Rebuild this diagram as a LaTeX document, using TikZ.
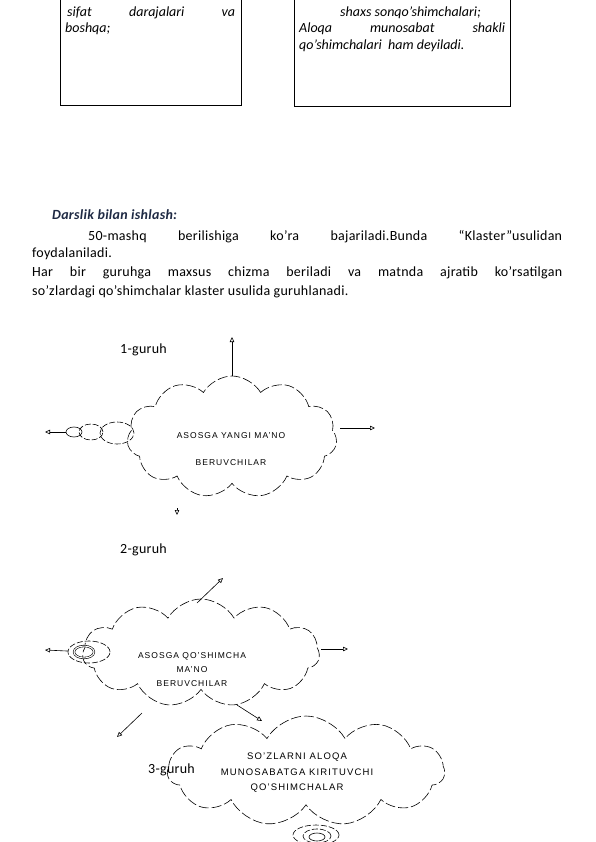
\documentclass[tikz,border=0pt]{standalone}
\usepackage{fontspec}
\setmainfont{Carlito}
\newfontfamily\bodyfont{Carlito}[LetterSpace=2]
\newfontfamily\cloudfont[LetterSpace=12]{Liberation Sans}
\usetikzlibrary{shapes.symbols,shapes.geometric,arrows.meta}
\definecolor{headnavy}{HTML}{1F2A44}
\tikzset{
  cloudbox/.style={cloud, cloud puffs=11, cloud puff arc=120, cloud ignores aspect, draw,
    dash pattern=on 10pt off 3pt, line width=0.6pt, inner sep=0pt},
  cloudtext/.style={align=center, inner sep=0pt, font=\cloudfont\fontsize{8.5}{9}\selectfont},
  bubble/.style={ellipse, draw, inner sep=0pt, line width=0.6pt},
  dashbubble/.style={bubble, dash pattern=on 6pt off 2pt},
  arr/.style={-{Triangle[open,length=5pt,width=4.5pt]}, line width=0.6pt},
  bodytext/.style={anchor=base west, inner sep=0pt, font=\bodyfont\fontsize{14}{16}\selectfont},
  boxtext/.style={anchor=base west, inner sep=0pt, font=\itshape\fontsize{14}{16}\selectfont},
  framebox/.style={draw, line width=0.8pt, inner sep=0pt}
}
\begin{document}
\begin{tikzpicture}[x=1pt,y=-1pt]
\useasboundingbox[fill=white] (0,0) rectangle (595,842);

% top boxes
\node[framebox, minimum width=181pt, minimum height=112pt, anchor=south west] (box1) at (60,106) {};
\node[boxtext] (b1l1) at (67,17) {\makebox[168pt][s]{sifat darajalari va}};
\node[boxtext] (b1l2) at (65,33) {boshqa;};

\node[framebox, minimum width=216pt, minimum height=113pt, anchor=south west] (box2) at (294,107) {};
\node[boxtext] (b2l1) at (340,17) {shaxs sonqo’shimchalari;};
\node[boxtext] (b2l2) at (299,33) {\makebox[206pt][s]{Aloqa munosabat shakli}};
\node[boxtext] (b2l3) at (299,50) {qo’shimchalari\ \ ham deyiladi.};

% heading and paragraph
\node[bodytext, font=\bodyfont\bfseries\itshape\fontsize{14}{16}\selectfont, text=headnavy] (head) at (52,219) {Darslik bilan ishlash:};
\node[bodytext] (p1) at (88,240.5) {\makebox[474pt][s]{50-mashq berilishiga ko’ra bajariladi.Bunda “Klaster”usulidan}};
\node[bodytext] (p2) at (32,257.5) {foydalaniladi.};
\node[bodytext] (p3) at (32,276.5) {\makebox[530pt][s]{Har bir guruhga maxsus chizma beriladi va matnda ajratib ko’rsatilgan}};
\node[bodytext] (p4) at (32,295) {so’zlardagi qo’shimchalar klaster usulida guruhlanadi.};

% group 1
\node[bodytext] (g1) at (120,353) {1-guruh};
\node[cloudbox, minimum width=210pt, minimum height=122pt] (c1) at (232,437) {};
\node[cloudtext] (t1) at (231,449) {ASOSGA YANGI MA’NO\\[18pt]BERUVCHILAR};
\node[dashbubble, minimum width=34pt, minimum height=22pt] (b1a) at (117,433) {};
\node[dashbubble, minimum width=24pt, minimum height=16pt] (b1b) at (91,432) {};
\node[bubble, minimum width=16pt, minimum height=10pt] (b1c) at (74,432) {};
\coordinate (e1up) at (232,337);
\coordinate (e1right) at (375,428);
\coordinate (e1left) at (45,432);
\coordinate (e1d1) at (177,508);
\coordinate (e1d2) at (177,515);
\draw[arr] (c1) -- (e1up);
\draw[arr] ([shift={(108,-9)}]c1.center) -- (e1right);
\draw[arr] (b1c) -- (e1left);
\draw[arr] (e1d1) -- (e1d2);

% group 2
\node[bodytext] (g2) at (120,553) {2-guruh};
\node[cloudbox, minimum width=237pt, minimum height=108pt] (c2) at (201,653) {};
\node[cloudtext] (t2) at (192,670) {ASOSGA QO’SHIMCHA\\[5pt]MA’NO\\[5pt]BERUVCHILAR};
\node[dashbubble, minimum width=42pt, minimum height=22pt] (b2a) at (89,652) {};
\node[bubble, double, double distance=1pt, minimum width=20pt, minimum height=12pt] (b2b) at (84,652) {};
\coordinate (e2up) at (223,578);
\coordinate (e2right) at (348,649);
\coordinate (e2dl) at (117,737);
\coordinate (e2left) at (45,650);
\draw[arr] ([shift={(-4,-50)}]c2.center) -- (e2up);
\draw[arr] ([shift={(120,-4)}]c2.center) -- (e2right);
\draw[arr] ([shift={(-59,60)}]c2.center) -- (e2dl);
\draw[arr] (b2a) -- (e2left);

% group 3
\node[cloudbox, minimum width=277pt, minimum height=110pt] (c3) at (306,771) {};
\node[cloudtext, font=\cloudfont\fontsize{9.5}{10}\selectfont] (t3) at (297,773) {SO’ZLARNI ALOQA\\[5.5pt]MUNOSABATGA KIRITUVCHI\\[5.5pt]QO’SHIMCHALAR};
\node[bodytext] (g3) at (148,773) {3-guruh};
\node[dashbubble, minimum width=46pt, minimum height=20pt] (b3a) at (316,835) {};
\node[dashbubble, minimum width=28pt, minimum height=14pt] (b3b) at (317,836) {};
\node[bubble, minimum width=16pt, minimum height=8pt] (b3c) at (317,837) {};
\draw[arr] ([shift={(36,52)}]c2.center) -- ([shift={(-44,-50)}]c3.center);
\end{tikzpicture}
\end{document}
